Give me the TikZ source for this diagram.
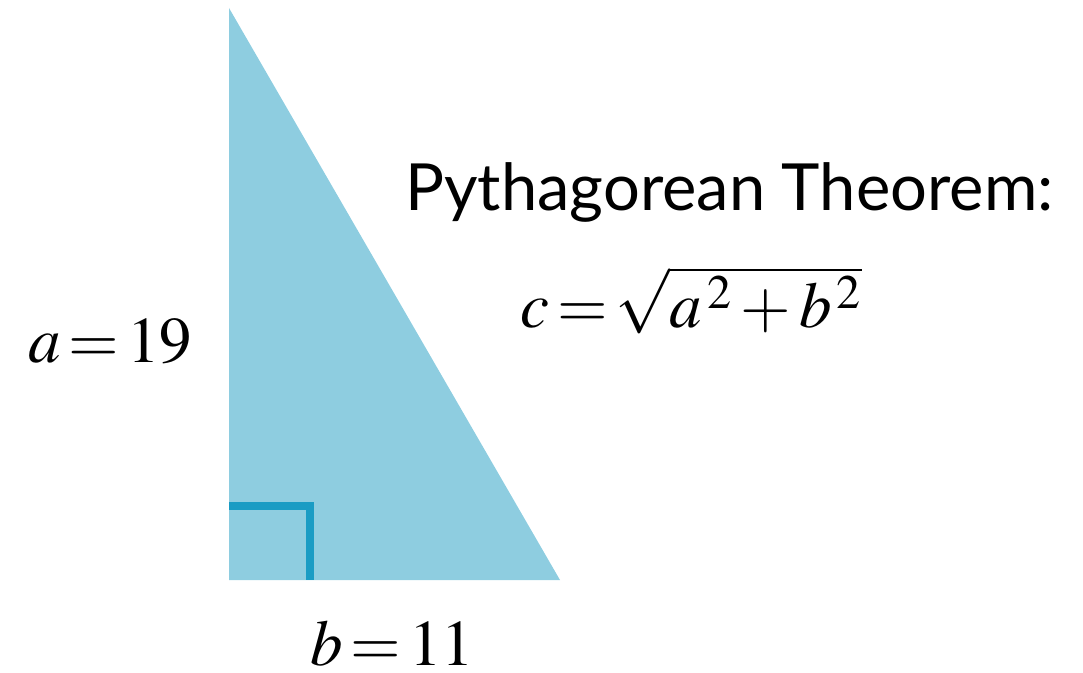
\documentclass[tikz,border=0pt]{standalone}
\usepackage{mathptmx}
\usepackage{fontspec}
\newfontfamily\titlefont{Lato}
\usepackage{tikz}
\usetikzlibrary{positioning, calc}
\definecolor{trifill}{HTML}{8ECDE0}
\definecolor{rightblue}{HTML}{1A9CC4}
\thickmuskip=2.2mu
\medmuskip=2.2mu
\tikzset{
    label/.style={inner sep=0pt, anchor=base west, font=\fontsize{37}{40}\selectfont},
    titletext/.style={inner sep=0pt, anchor=base west, font=\titlefont\fontsize{37}{40}\selectfont},
    anglemark/.style={draw=rightblue, line width=4.5pt}
}
\begin{document}
\begin{tikzpicture}
    \useasboundingbox (0,0) rectangle (21.66,13.44);
    % triangle corners
    \coordinate (top) at (4.58,13.28);
    \coordinate (corner) at (4.58,1.84);
    \coordinate (right) at (11.2,1.84);
    \fill[trifill] (top) -- (corner) -- (right) -- cycle;
    \draw[anglemark] (4.58,3.32) -| (6.2,1.84);
    % labels
    \node[label] (sidea) at (0.56,6.2) {$a=19$};
    \node[label] (sideb) at (6.2,0.14) {$b=11$};
    \node[titletext] (title) at (8.1,9.24) {Pythagorean Theorem:};
    \node[label] (formula) at (10.4,6.9) {$c=\sqrt{a^{\,2}+b^{\,2}}$};
\end{tikzpicture}
\end{document}
